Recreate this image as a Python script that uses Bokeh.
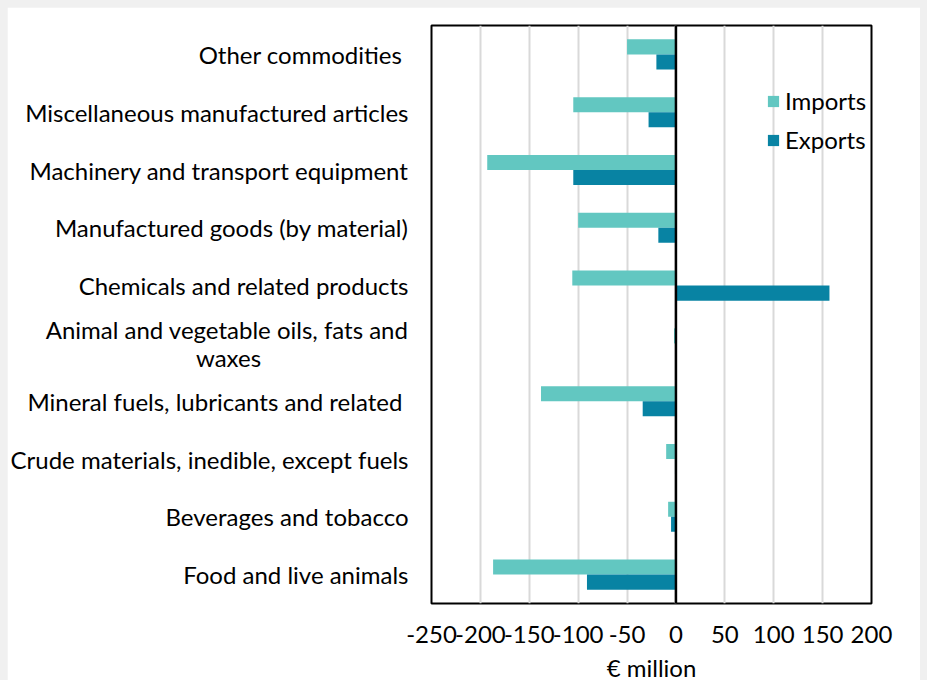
from bokeh.plotting import figure
from bokeh.models import ColumnDataSource, FactorRange, Span, Legend, LegendItem, FixedTicker
from bokeh.transform import dodge
from bokeh.embed import file_html
from bokeh.resources import INLINE

NB = "\u00a0"
categories = [
    "Food and live animals",
    "Beverages and tobacco",
    "Crude materials, inedible, except fuels",
    "Mineral fuels, lubricants and related" + NB,
    "Animal and vegetable oils, fats and\nwaxes" + NB * 24,
    "Chemicals and related products",
    "Manufactured goods (by material)",
    "Machinery and transport equipment",
    "Miscellaneous manufactured articles",
    "Other commodities" + NB,
]
imports = [-187, -8, -10, -138, -2, -106, -100, -193, -105, -50]
exports = [-91, -5, -1, -34, -0.5, 157, -18, -105, -28, -20]
x_ticks = [-250, -200, -150, -100, -50, 0, 50, 100, 150, 200]

FONT = "Lato"
IMP_COLOR = "#62C7C1"
EXP_COLOR = "#0883A3"

src = ColumnDataSource(dict(cat=categories, imp=imports, exp=exports))

p = figure(
    frame_width=440, frame_height=578,
    y_range=FactorRange(*categories),
    x_range=(-250, 200),
    output_backend="svg", toolbar_location=None,
    min_border_left=424, min_border_right=49, min_border_top=18, min_border_bottom=10,
)
p.background_fill_color = "white"
p.border_fill_color = "white"
p.outline_line_color = "black"
p.outline_line_width = 2

r_imp = p.hbar(y=dodge("cat", 0.13, range=p.y_range), right="imp", left=0, height=0.26,
               source=src, color=IMP_COLOR, line_color=None)
r_exp = p.hbar(y=dodge("cat", -0.13, range=p.y_range), right="exp", left=0, height=0.26,
               source=src, color=EXP_COLOR, line_color=None)

p.add_layout(Span(location=0, dimension="height", line_color="black", line_width=2.5))

p.ygrid.grid_line_color = None
p.xgrid.grid_line_color = "#D9D9D9"
p.xgrid.grid_line_width = 2

xa = p.xaxis[0]
xa.ticker = FixedTicker(ticks=x_ticks)
xa.major_label_overrides = {t: str(t) for t in x_ticks}
xa.axis_line_color = None
xa.major_tick_line_color = None
xa.minor_tick_line_color = None
xa.major_label_text_font = FONT
xa.major_label_text_font_size = "24px"
xa.major_label_text_color = "black"
xa.major_label_standoff = 16
xa.axis_label = "€ million"
xa.axis_label_text_font = FONT
xa.axis_label_text_font_size = "24px"
xa.axis_label_text_font_style = "normal"
xa.axis_label_text_color = "black"
xa.axis_label_standoff = 7

ya = p.yaxis[0]
ya.axis_line_color = None
ya.major_tick_line_color = None
ya.minor_tick_line_color = None
ya.major_label_text_font = FONT
ya.major_label_text_font_size = "24px"
ya.major_label_text_color = "black"
ya.major_label_text_line_height = 0.97
ya.major_label_standoff = 17

legend = Legend(items=[LegendItem(label="Imports", renderers=[r_imp]),
                       LegendItem(label="Exports", renderers=[r_exp])],
                location=(335, 449))
legend.label_text_font = FONT
legend.label_text_font_size = "24px"
legend.label_text_color = "black"
legend.glyph_width = 14
legend.glyph_height = 14
legend.label_height = 29
legend.spacing = 10
legend.padding = 5
legend.label_standoff = 5
legend.border_line_color = None
legend.background_fill_alpha = 0
p.add_layout(legend)

html = file_html(p, INLINE)
style = "<style>html,body{margin:0;padding:0;overflow:hidden;background-color:#f0f0f0 !important;} body{margin:7px !important;}</style>"
html = html.replace("</head>", style + "</head>", 1)
open("out.html", "w").write(html)
